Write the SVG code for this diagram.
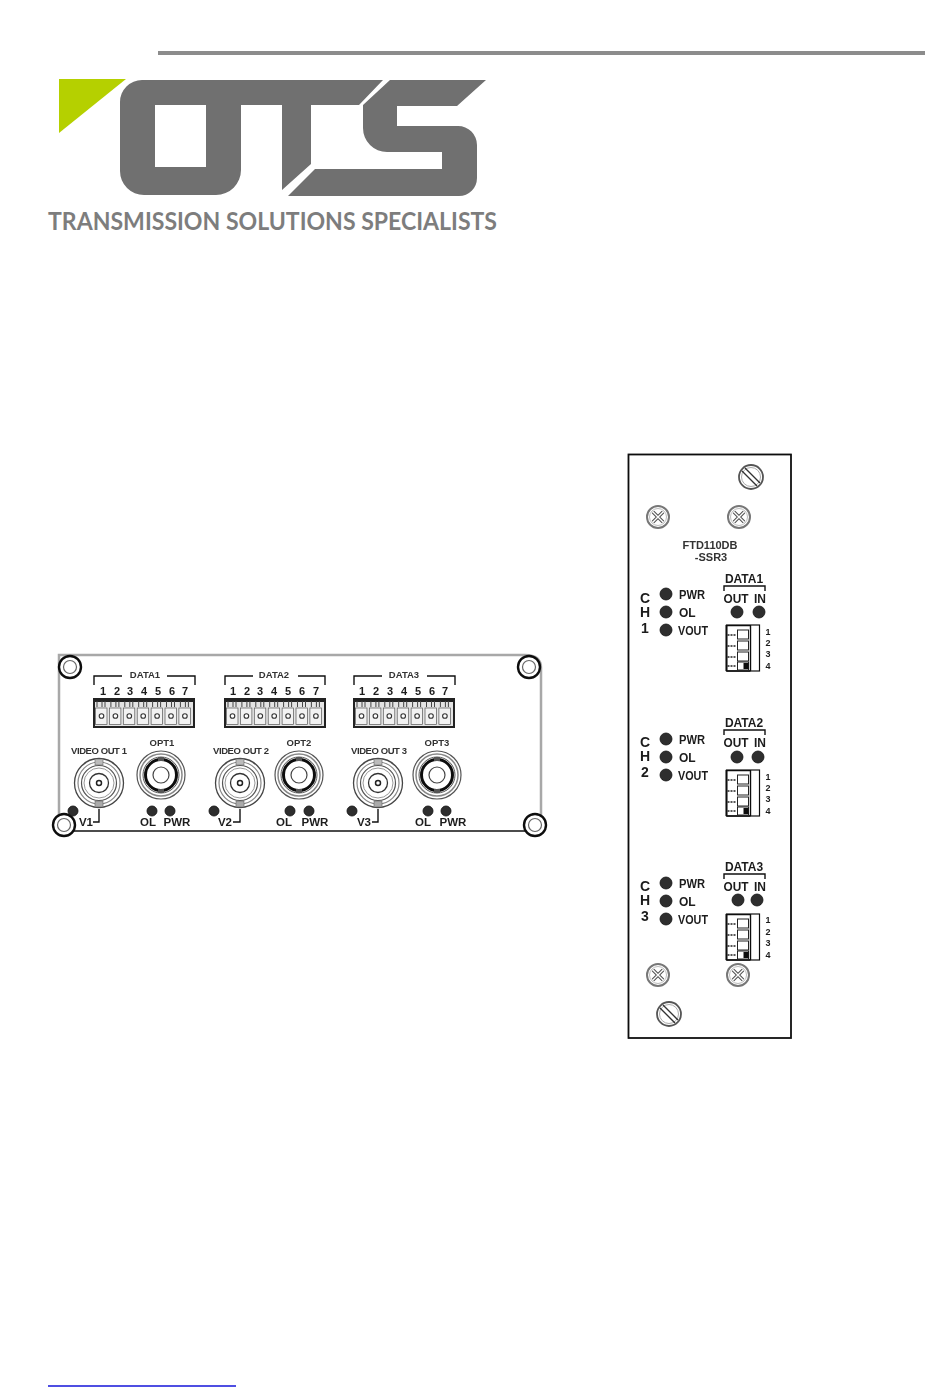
<svg xmlns="http://www.w3.org/2000/svg" xmlns:xlink="http://www.w3.org/1999/xlink" width="950" height="1397" viewBox="0 0 950 1397">
<style>
text{font-family:"Liberation Sans",Arial,sans-serif;fill:#1c1c1c}
.tag{font-family:Lato,"Open Sans","Liberation Sans",sans-serif;font-weight:700;font-size:24px;fill:#7d7d7d}
.logo{fill:#707070}
.s9{font-size:9.500px;font-weight:700;fill:#333;text-anchor:middle}
.n{font-size:11px;font-weight:700;text-anchor:middle}
.lb{font-size:11.500px;font-weight:700;text-anchor:middle}
.b{font-size:12px;font-weight:700}
.ch{font-size:14px;font-weight:700;text-anchor:middle}
.hd{font-size:12px;font-weight:700;text-anchor:middle}
.sm{font-size:9px;font-weight:700;text-anchor:middle}
.id{font-size:11px;font-weight:700;fill:#333;text-anchor:middle}
.ln{fill:none;stroke:#111;stroke-width:1.400}
.led{fill:#2f2f2f;stroke:#111;stroke-width:.8}
</style>
<defs>
<filter id="soft" x="-5%" y="-5%" width="110%" height="110%"><feGaussianBlur stdDeviation="0.45"/></filter>
<g id="terminal">
<rect x="0" y="0" width="102" height="30" fill="#222"/>
<rect x="2" y="4" width="98" height="24" fill="#e4e4e4"/>
<g id="cell">
<rect x="2.500" y="10" width="11.500" height="16.500" fill="#f2f2f2" stroke="#555" stroke-width=".7"/>
<path d="M4 3V9M9 3V9M12 3V9" stroke="#444" stroke-width="1" fill="none"/>
<circle cx="8.500" cy="18" r="2.300" fill="#fff" stroke="#333" stroke-width="1.100"/>
</g>
<use href="#cell" x="13.900"/><use href="#cell" x="27.800"/><use href="#cell" x="41.700"/><use href="#cell" x="55.600"/><use href="#cell" x="69.500"/><use href="#cell" x="83.400"/>
</g>
<g id="bnc">
<circle r="24.500" fill="#fff" stroke="#444" stroke-width="1.300"/>
<circle r="21" fill="none" stroke="#888" stroke-width="1.200"/>
<circle r="17.500" fill="none" stroke="#555" stroke-width="1.200"/>
<circle r="15" fill="none" stroke="#999" stroke-width="1"/>
<circle r="9.500" fill="#fff" stroke="#333" stroke-width="1.300"/>
<circle r="2.500" fill="#fff" stroke="#222" stroke-width="1.500"/>
<rect x="-4" y="-24" width="8" height="6" fill="#bbb" stroke="#666" stroke-width=".6"/>
<rect x="-4" y="18" width="8" height="6" fill="#aaa" stroke="#666" stroke-width=".6"/>
</g>
<g id="opt">
<circle r="24" fill="#fff" stroke="#555" stroke-width="1.200"/>
<circle r="21" fill="none" stroke="#888" stroke-width="1.500"/>
<circle r="18" fill="none" stroke="#555" stroke-width="1"/>
<circle r="15.500" fill="none" stroke="#111" stroke-width="3"/>
<circle r="8" fill="#fff" stroke="#444" stroke-width="1.200"/>
<rect x="-3" y="-18" width="6" height="4" fill="#555"/>
<rect x="-3" y="14" width="6" height="4" fill="#555"/>
</g>
<g id="corner">
<circle r="11" fill="#fff" stroke="#111" stroke-width="2.400"/>
<circle r="6.500" fill="#fff" stroke="#666" stroke-width="1.200"/>
</g>
<g id="slot">
<circle r="12" fill="#fff" stroke="#555" stroke-width="1.800"/>
<circle r="9.500" fill="none" stroke="#aaa" stroke-width="1"/>
<path d="M-9-6L6 9M-6-9L9 6" stroke="#333" stroke-width="1.400" fill="none"/>
</g>
<g id="cross">
<circle r="11" fill="#fff" stroke="#777" stroke-width="2"/>
<circle r="8.500" fill="none" stroke="#bbb" stroke-width="1"/>
<path d="M-5-5L5 5M-5 5L5-5" stroke="#555" stroke-width="3.500" fill="none"/>
<path d="M-5-5L5 5M-5 5L5-5" stroke="#fff" stroke-width="1.400" fill="none"/>
</g>
<g id="dip">
<rect x="0" y="0" width="33" height="46" fill="#fff" stroke="#111" stroke-width="1.200"/>
<path d="M0 .6H24M24 0V46M0 46H24" stroke="#111" stroke-width="1.400" fill="none"/>
<path d="M0 0V46" stroke="#111" stroke-width="2"/>
<rect x="11" y="5" width="11" height="9" fill="#fff" stroke="#222" stroke-width="1"/>
<rect x="11" y="16" width="11" height="9" fill="#fff" stroke="#222" stroke-width="1"/>
<rect x="11" y="27" width="11" height="9" fill="#fff" stroke="#222" stroke-width="1"/>
<rect x="11" y="37" width="11" height="8" fill="#fff" stroke="#222" stroke-width="1"/>
<rect x="17" y="38" width="5" height="6" fill="#111"/>
<path d="M1 10H10M1 21H10M1 32H10M1 41H10" stroke="#222" stroke-width="1.300" stroke-dasharray="2 1" fill="none"/>
</g>
</defs>

<rect width="950" height="1397" fill="#fff"/>

<g id="header-rule"><line x1="158" y1="53" x2="925" y2="53" stroke="#8c8c8c" stroke-width="4"/></g>

<g id="logo">
<polygon points="59,79 126,79 59,133" fill="#b5d000"/>
<path class="logo" fill-rule="evenodd" d="M142 80H383L359 105H311V164L282 190V105H241V170A25 25 0 0 1 216 195H144A24 24 0 0 1 120 171V102A22 22 0 0 1 142 80ZM155 105V167H206V105Z"/>
<path class="logo" d="M390 80H486L457 106H397V126H458A19 19 0 0 1 477 145V178A18 18 0 0 1 459 196H288L315 169H442V152H387A24 24 0 0 1 363 128V105Z"/>
<text class="tag" x="48" y="230" textLength="449" lengthAdjust="spacingAndGlyphs">TRANSMISSION SOLUTIONS SPECIALISTS</text>
</g>

<g id="front-panel" filter="url(#soft)">
<path d="M59 831V655H525Q541 655 541 668V831" fill="none" stroke="#a8a8a8" stroke-width="2.500"/>
<line x1="59" y1="831" x2="541" y2="831" stroke="#111" stroke-width="1.300"/>
<use href="#corner" x="70" y="667"/>
<use href="#corner" x="64" y="825"/>
<use href="#corner" x="529" y="667"/>
<use href="#corner" x="535" y="825"/>

<g id="data1-block">
<path class="ln" d="M94 685V676H122M167 676H195V685"/>
<text class="s9" x="145" y="678">DATA1</text>
<text class="n" x="103" y="695">1</text><text class="n" x="117" y="695">2</text><text class="n" x="130" y="695">3</text><text class="n" x="144" y="695">4</text><text class="n" x="158" y="695">5</text><text class="n" x="172" y="695">6</text><text class="n" x="185" y="695">7</text>
<use href="#terminal" x="93" y="698"/>
</g>
<g id="data2-block">
<path class="ln" d="M225 685V676H253M298 676H325V685"/>
<text class="s9" x="274" y="678">DATA2</text>
<text class="n" x="233" y="695">1</text><text class="n" x="247" y="695">2</text><text class="n" x="260" y="695">3</text><text class="n" x="274" y="695">4</text><text class="n" x="288" y="695">5</text><text class="n" x="302" y="695">6</text><text class="n" x="316" y="695">7</text>
<use href="#terminal" x="224" y="698"/>
</g>
<g id="data3-block">
<path class="ln" d="M354 685V676H382M427 676H455V685"/>
<text class="s9" x="404" y="678">DATA3</text>
<text class="n" x="362" y="695">1</text><text class="n" x="376" y="695">2</text><text class="n" x="390" y="695">3</text><text class="n" x="404" y="695">4</text><text class="n" x="418" y="695">5</text><text class="n" x="432" y="695">6</text><text class="n" x="445" y="695">7</text>
<use href="#terminal" x="353" y="698"/>
</g>

<g id="video1">
<text class="s9" x="99" y="754" textLength="56">VIDEO OUT 1</text>
<use href="#bnc" x="99" y="783"/>
<circle class="led" cx="73" cy="811" r="5"/>
<text class="lb" x="86" y="826">V1</text>
<path class="ln" d="M99 809V822H93"/>
</g>
<g id="opt1">
<text class="s9" x="162" y="746">OPT1</text>
<use href="#opt" x="161" y="775"/>
<circle class="led" cx="152" cy="811" r="5"/><circle class="led" cx="170" cy="811" r="5"/>
<text class="lb" x="148" y="826">OL</text><text class="lb" x="177" y="826">PWR</text>
</g>
<g id="video2">
<text class="s9" x="241" y="754" textLength="56">VIDEO OUT 2</text>
<use href="#bnc" x="240" y="783"/>
<circle class="led" cx="214" cy="811" r="5"/>
<text class="lb" x="225" y="826">V2</text>
<path class="ln" d="M240 809V822H233"/>
</g>
<g id="opt2">
<text class="s9" x="299" y="746">OPT2</text>
<use href="#opt" x="299" y="775"/>
<circle class="led" cx="290" cy="811" r="5"/><circle class="led" cx="309" cy="811" r="5"/>
<text class="lb" x="284" y="826">OL</text><text class="lb" x="315" y="826">PWR</text>
</g>
<g id="video3">
<text class="s9" x="379" y="754" textLength="56">VIDEO OUT 3</text>
<use href="#bnc" x="378" y="783"/>
<circle class="led" cx="352" cy="811" r="5"/>
<text class="lb" x="364" y="826">V3</text>
<path class="ln" d="M378 809V822H372"/>
</g>
<g id="opt3">
<text class="s9" x="437" y="746">OPT3</text>
<use href="#opt" x="437" y="775"/>
<circle class="led" cx="428" cy="811" r="5"/><circle class="led" cx="446" cy="811" r="5"/>
<text class="lb" x="423" y="826">OL</text><text class="lb" x="453" y="826">PWR</text>
</g>
</g>

<g id="side-panel" filter="url(#soft)">
<rect x="628.500" y="454.500" width="162.500" height="583.500" fill="#fff" stroke="#111" stroke-width="1.800"/>
<use href="#slot" x="751" y="477"/>
<use href="#cross" x="658" y="517"/>
<use href="#cross" x="739" y="517"/>
<use href="#cross" x="658" y="975"/>
<use href="#cross" x="738" y="975"/>
<use href="#slot" x="669" y="1014"/>
<text class="id" x="710" y="549">FTD110DB</text>
<text class="id" x="711" y="561" font-weight="400">-SSR3</text>

<g id="ch1">
<text class="ch" x="645" y="603">C</text><text class="ch" x="645" y="617">H</text><text class="ch" x="645" y="633">1</text>
<circle class="led" cx="666" cy="594" r="6"/><circle class="led" cx="666" cy="612" r="6"/><circle class="led" cx="666" cy="630" r="6"/>
<text class="b" x="679" y="599" textLength="26" lengthAdjust="spacingAndGlyphs">PWR</text><text class="b" x="679" y="617">OL</text><text class="b" x="678" y="635" textLength="30" lengthAdjust="spacingAndGlyphs">VOUT</text>
<text class="hd" x="744" y="583">DATA1</text>
<path class="ln" d="M724 591V586H765V591"/>
<text class="hd" x="736" y="603" textLength="25" lengthAdjust="spacingAndGlyphs">OUT</text><text class="hd" x="760" y="603">IN</text>
<circle class="led" cx="737" cy="612" r="6"/><circle class="led" cx="759" cy="612" r="6"/>
<use href="#dip" x="726.500" y="625"/>
<text class="sm" x="768" y="635">1</text><text class="sm" x="768" y="646">2</text><text class="sm" x="768" y="657">3</text><text class="sm" x="768" y="669">4</text>
</g>
<g id="ch2">
<text class="ch" x="645" y="747">C</text><text class="ch" x="645" y="761">H</text><text class="ch" x="645" y="777">2</text>
<circle class="led" cx="666" cy="739" r="6"/><circle class="led" cx="666" cy="757" r="6"/><circle class="led" cx="666" cy="775" r="6"/>
<text class="b" x="679" y="744" textLength="26" lengthAdjust="spacingAndGlyphs">PWR</text><text class="b" x="679" y="762">OL</text><text class="b" x="678" y="780" textLength="30" lengthAdjust="spacingAndGlyphs">VOUT</text>
<text class="hd" x="744" y="727">DATA2</text>
<path class="ln" d="M724 735V730H765V735"/>
<text class="hd" x="736" y="747" textLength="25" lengthAdjust="spacingAndGlyphs">OUT</text><text class="hd" x="760" y="747">IN</text>
<circle class="led" cx="737" cy="757" r="6"/><circle class="led" cx="758" cy="757" r="6"/>
<use href="#dip" x="726.500" y="770"/>
<text class="sm" x="768" y="780">1</text><text class="sm" x="768" y="791">2</text><text class="sm" x="768" y="802">3</text><text class="sm" x="768" y="814">4</text>
</g>
<g id="ch3">
<text class="ch" x="645" y="891">C</text><text class="ch" x="645" y="905">H</text><text class="ch" x="645" y="921">3</text>
<circle class="led" cx="666" cy="883" r="6"/><circle class="led" cx="666" cy="901" r="6"/><circle class="led" cx="666" cy="919" r="6"/>
<text class="b" x="679" y="888" textLength="26" lengthAdjust="spacingAndGlyphs">PWR</text><text class="b" x="679" y="906">OL</text><text class="b" x="678" y="924" textLength="30" lengthAdjust="spacingAndGlyphs">VOUT</text>
<text class="hd" x="744" y="871">DATA3</text>
<path class="ln" d="M724 879V874H765V879"/>
<text class="hd" x="736" y="891" textLength="25" lengthAdjust="spacingAndGlyphs">OUT</text><text class="hd" x="760" y="891">IN</text>
<circle class="led" cx="738" cy="900" r="6"/><circle class="led" cx="757" cy="900" r="6"/>
<use href="#dip" x="726.500" y="914"/>
<text class="sm" x="768" y="923">1</text><text class="sm" x="768" y="935">2</text><text class="sm" x="768" y="946">3</text><text class="sm" x="768" y="958">4</text>
</g>
</g>

<g id="footer-link"><line x1="48" y1="1386" x2="236" y2="1386" stroke="#1414d8" stroke-width="1.500"/></g>
</svg>
